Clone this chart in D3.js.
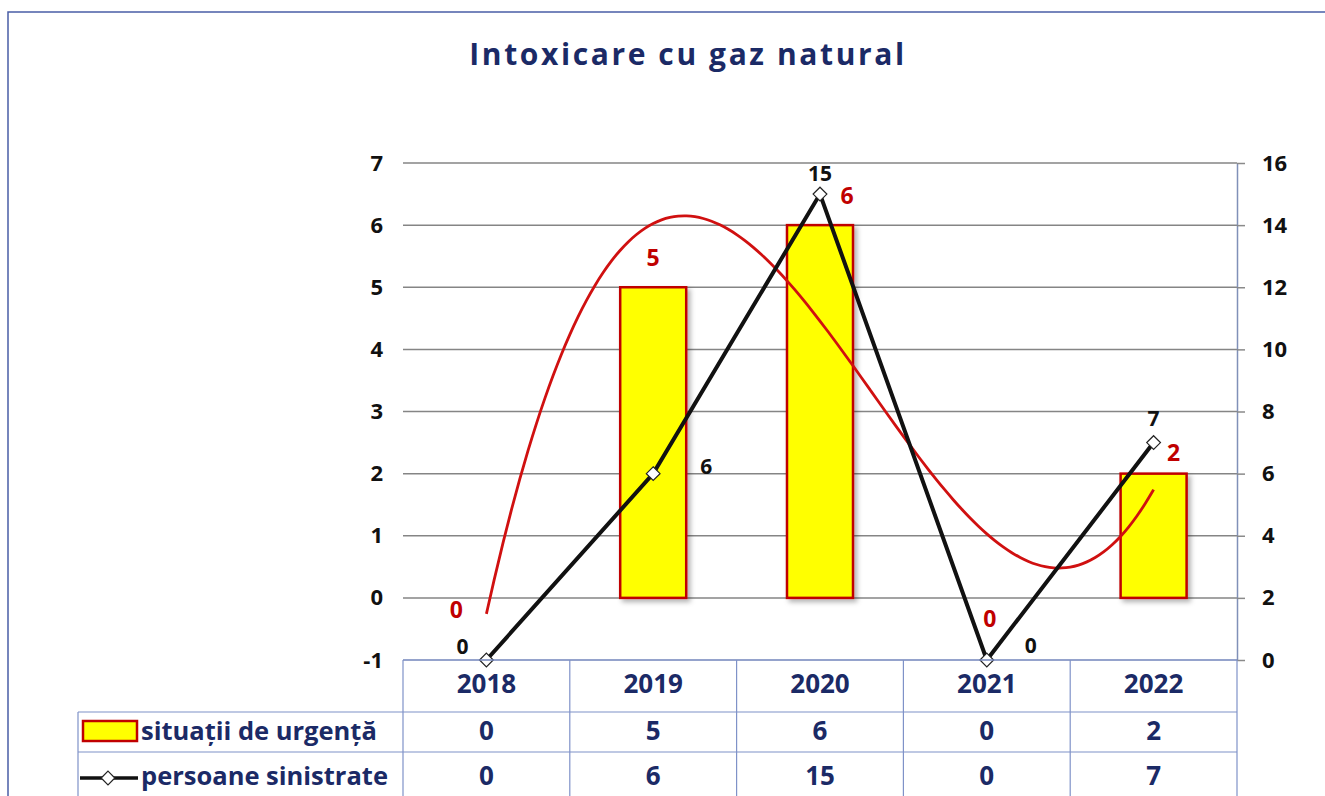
<!DOCTYPE html>
<html>
<head>
<meta charset="utf-8">
<script src="https://cdn.jsdelivr.net/npm/d3@7"></script>
<style>
  body { margin: 0; background: #fff; }
  svg { display: block; font-family: 'Open Sans', 'Noto Sans', sans-serif; }
</style>
</head>
<body>
<svg width="1325" height="796"></svg>
<script>
var width = 1325;
var height = 796;

// data
var years = ['2018', '2019', '2020', '2021', '2022'];
var situatii = [0, 5, 6, 0, 2];
var persoane = [0, 6, 15, 0, 7];
var leftTicks = [-1, 0, 1, 2, 3, 4, 5, 6, 7];
var rightTicks = [0, 2, 4, 6, 8, 10, 12, 14, 16];
var seriesNames = ['situații de urgență', 'persoane sinistrate'];

var navy = '#1b2a66';
var red = '#c00000';
var tableLine = '#7f92c8';

var plotLeft = 403, plotRight = 1237, plotTop = 163, plotBottom = 660;

var svg = d3.select('svg');

var defs = svg.append('defs');
var shadow = defs.append('filter').attr('id', 'shadow')
    .attr('x', '-20%').attr('y', '-20%').attr('width', '150%').attr('height', '150%');
shadow.append('feDropShadow')
    .attr('dx', 3).attr('dy', 3).attr('stdDeviation', 2.5)
    .attr('flood-color', '#000').attr('flood-opacity', 0.3);

// frame
svg.append('path')
    .attr('d', 'M8,796 L8,12 L1325,12')
    .attr('fill', 'none')
    .attr('stroke', '#4a5ea6')
    .attr('stroke-width', 1.5);

// title
svg.append('text')
    .text('Intoxicare cu gaz natural')
    .attr('x', 688)
    .attr('y', 65)
    .attr('text-anchor', 'middle')
    .style('font-size', '30px')
    .style('font-weight', 'bold')
    .style('letter-spacing', '2.6px')
    .attr('fill', navy);

var xScale = d3.scaleBand()
    .domain(years)
    .range([plotLeft, plotRight]);

var yLeft = d3.scaleLinear()
    .domain([-1, 7])
    .range([plotBottom, plotTop]);

var yRight = d3.scaleLinear()
    .domain([0, 16])
    .range([plotBottom, plotTop]);

var cx = d => xScale(d) + xScale.bandwidth() / 2;

// gridlines
svg.append('g').selectAll('line')
    .data(leftTicks.filter(t => t > -1))
    .enter().append('line')
    .attr('x1', plotLeft).attr('x2', plotRight)
    .attr('y1', d => yLeft(d)).attr('y2', d => yLeft(d))
    .attr('stroke', '#858585')
    .attr('stroke-width', 1.5);

// left axis
var leftAxis = svg.append('g')
    .attr('transform', 'translate(' + plotLeft + ',0)')
    .call(d3.axisLeft(yLeft).tickValues(leftTicks).tickFormat(d => String(d)).tickSize(0).tickPadding(20));
leftAxis.select('.domain').remove();
leftAxis.selectAll('text')
    .style('font-size', '22px').style('font-weight', 'bold')
    .style('font-family', "'Open Sans', sans-serif")
    .attr('fill', '#111');

// right axis
var rightAxis = svg.append('g')
    .attr('transform', 'translate(' + plotRight + ',0)')
    .call(d3.axisRight(yRight).tickValues(rightTicks).tickSize(8).tickSizeOuter(0).tickPadding(17));
rightAxis.select('.domain').attr('stroke', '#8090b8').attr('stroke-width', 1.5);
rightAxis.selectAll('line').attr('stroke', '#8a8a8a').attr('stroke-width', 1.5);
rightAxis.selectAll('text')
    .style('font-size', '22px').style('font-weight', 'bold')
    .style('font-family', "'Open Sans', sans-serif")
    .attr('fill', '#111');

// bars
var barW = 66;
svg.append('g').selectAll('rect')
    .data(years.map((y, i) => ({year: y, v: situatii[i]})).filter(d => d.v > 0))
    .enter().append('rect')
    .attr('x', d => cx(d.year) - barW / 2)
    .attr('y', d => yLeft(d.v))
    .attr('width', barW)
    .attr('height', d => yLeft(0) - yLeft(d.v))
    .attr('fill', '#ffff00')
    .attr('stroke', red)
    .attr('stroke-width', 2.5)
    .attr('filter', 'url(#shadow)');

// polynomial (order 3) trendline on situatii
function polyFit(xs, ys, order) {
  var n = order + 1;
  var A = [];
  for (var r = 0; r < n; r++) {
    A.push([]);
    for (var c = 0; c < n; c++) A[r].push(d3.sum(xs, x => Math.pow(x, r + c)));
    A[r].push(d3.sum(xs, (x, i) => Math.pow(x, r) * ys[i]));
  }
  for (var i = 0; i < n; i++) {
    var p = i;
    for (var k = i + 1; k < n; k++) if (Math.abs(A[k][i]) > Math.abs(A[p][i])) p = k;
    var tmp = A[i]; A[i] = A[p]; A[p] = tmp;
    for (var k = i + 1; k < n; k++) {
      var f = A[k][i] / A[i][i];
      for (var j = i; j <= n; j++) A[k][j] -= f * A[i][j];
    }
  }
  var coef = new Array(n).fill(0);
  for (var i = n - 1; i >= 0; i--) {
    var s = A[i][n];
    for (var j = i + 1; j < n; j++) s -= A[i][j] * coef[j];
    coef[i] = s / A[i][i];
  }
  return coef;
}
var idx = years.map((y, i) => i + 1);
var coef = polyFit(idx, situatii, 3);
var trend = d3.range(1, 5.001, 0.05).map(t => ({t: t, v: coef.reduce((s, c, k) => s + c * Math.pow(t, k), 0)}));
var tx = d3.scaleLinear().domain([1, 5]).range([cx(years[0]), cx(years[4])]);
svg.append('path')
    .datum(trend)
    .attr('d', d3.line().x(d => tx(d.t)).y(d => yLeft(d.v)).curve(d3.curveBasis))
    .attr('fill', 'none')
    .attr('stroke', '#d01010')
    .attr('stroke-width', 2.8);

// persoane line
var pts = years.map((y, i) => ({year: y, v: persoane[i]}));
svg.append('path')
    .datum(pts)
    .attr('d', d3.line().x(d => cx(d.year)).y(d => yRight(d.v)))
    .attr('fill', 'none')
    .attr('stroke', '#111')
    .attr('stroke-width', 4);

svg.append('g').selectAll('path')
    .data(pts)
    .enter().append('path')
    .attr('d', d3.symbol().type(d3.symbolDiamond2).size(120))
    .attr('transform', d => 'translate(' + cx(d.year) + ',' + yRight(d.v) + ')')
    .attr('fill', '#fff')
    .attr('stroke', '#222')
    .attr('stroke-width', 1.2);

// labels for persoane (black)
var blackOffsets = [[-24, -13], [53, -7], [0, -20], [44, -14], [0, -24]];
svg.append('g').selectAll('text')
    .data(pts)
    .enter().append('text')
    .text(d => d.v)
    .attr('x', (d, i) => cx(d.year) + blackOffsets[i][0])
    .attr('y', (d, i) => yRight(d.v) + blackOffsets[i][1])
    .attr('text-anchor', 'middle')
    .attr('dy', '0.35em')
    .style('font-size', '21px')
    .style('font-weight', 'bold')
    .attr('fill', '#111');

// labels for situatii (red)
var redOffsets = [[-30, 12], [0, -29], [27, -29], [3, 21], [20, -21]];
svg.append('g').selectAll('text')
    .data(years.map((y, i) => ({year: y, v: situatii[i]})))
    .enter().append('text')
    .text(d => d.v)
    .attr('x', (d, i) => cx(d.year) + redOffsets[i][0])
    .attr('y', (d, i) => yLeft(d.v) + redOffsets[i][1])
    .attr('text-anchor', 'middle')
    .attr('dy', '0.35em')
    .style('font-size', '23px')
    .style('font-weight', 'bold')
    .attr('fill', red);

// data table
var tableLeft = 78;
var rowY = [660, 712, 752, 800];
var table = svg.append('g');

// x axis line / table top
table.append('line')
    .attr('x1', plotLeft).attr('x2', plotRight)
    .attr('y1', rowY[0]).attr('y2', rowY[0])
    .attr('stroke', '#7285bb').attr('stroke-width', 1.5);

[rowY[1], rowY[2]].forEach(function(y) {
  table.append('line')
      .attr('x1', tableLeft).attr('x2', plotRight)
      .attr('y1', y).attr('y2', y)
      .attr('stroke', tableLine).attr('stroke-width', 1.2);
});

var colEdges = years.map(y => xScale(y)).concat([plotRight]);
table.selectAll('.vline')
    .data(colEdges)
    .enter().append('line')
    .attr('x1', d => d).attr('x2', d => d)
    .attr('y1', rowY[0]).attr('y2', height)
    .attr('stroke', tableLine).attr('stroke-width', 1.2);
table.append('line')
    .attr('x1', tableLeft).attr('x2', tableLeft)
    .attr('y1', rowY[1]).attr('y2', height)
    .attr('stroke', tableLine).attr('stroke-width', 1.2);

table.selectAll('.year')
    .data(years)
    .enter().append('text')
    .text(d => d)
    .attr('x', d => cx(d))
    .attr('y', 684)
    .attr('dy', '0.35em')
    .attr('text-anchor', 'middle')
    .style('font-size', '26px').style('font-weight', 'bold')
    .attr('fill', navy);

[situatii, persoane].forEach(function(vals, r) {
  table.append('g').selectAll('text')
      .data(vals)
      .enter().append('text')
      .text(d => d)
      .attr('x', (d, i) => cx(years[i]))
      .attr('y', r === 0 ? 731 : 776)
      .attr('dy', '0.35em')
      .attr('text-anchor', 'middle')
      .style('font-size', '26px').style('font-weight', 'bold')
      .attr('fill', navy);
});

// legend keys
table.append('rect')
    .attr('x', 83).attr('y', 721).attr('width', 54).attr('height', 20)
    .attr('fill', '#ffff00').attr('stroke', red).attr('stroke-width', 2.5);
table.append('line')
    .attr('x1', 80).attr('x2', 138).attr('y1', 778).attr('y2', 778)
    .attr('stroke', '#111').attr('stroke-width', 3.5);
table.append('path')
    .attr('d', d3.symbol().type(d3.symbolDiamond2).size(120))
    .attr('transform', 'translate(108,778)')
    .attr('fill', '#fff').attr('stroke', '#222').attr('stroke-width', 1.2);

table.selectAll('.legtext')
    .data(seriesNames)
    .enter().append('text')
    .text(d => d)
    .attr('x', 141)
    .attr('y', (d, i) => i === 0 ? 731 : 776)
    .attr('dy', '0.35em')
    .style('font-size', '25.5px').style('font-weight', 'bold')
    .attr('fill', navy);
</script>
</body>
</html>
